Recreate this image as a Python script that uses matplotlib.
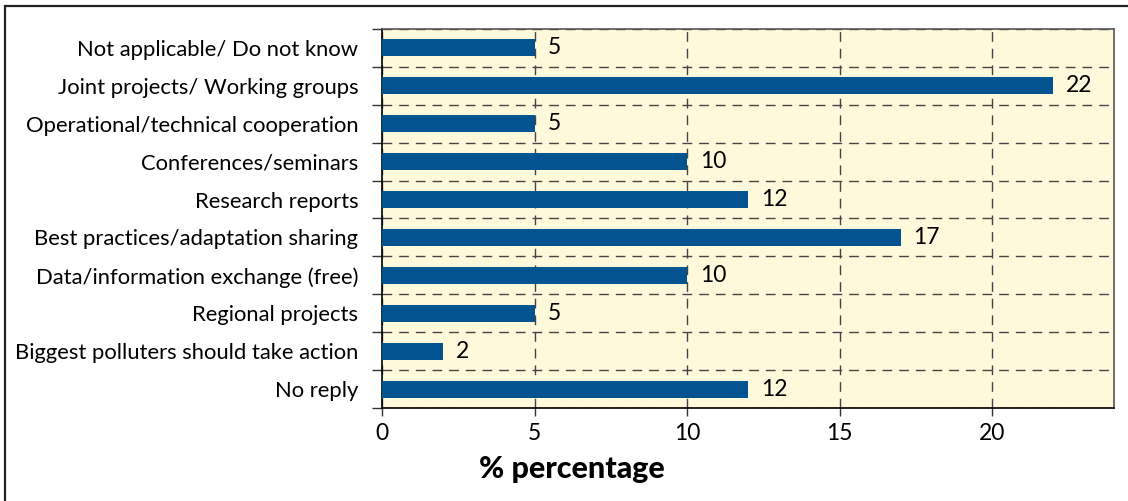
import matplotlib
matplotlib.use("Agg")
import matplotlib.pyplot as plt
from matplotlib.patches import Rectangle

categories = [
    "Not applicable/ Do not know",
    "Joint projects/ Working groups",
    "Operational/technical cooperation",
    "Conferences/seminars",
    "Research reports",
    "Best practices/adaptation sharing",
    "Data/information exchange (free)",
    "Regional projects",
    "Biggest polluters should take action",
    "No reply",
]
values = [5, 22, 5, 10, 12, 17, 10, 5, 2, 12]
xticks = [0, 5, 10, 15, 20]

BAR = "#01548F"
BG = "#FFF9DC"
FONT = "Lato"

W, H = 1128, 501
fig = plt.figure(figsize=(W / 100, H / 100), dpi=100)
fig.patch.set_facecolor("white")

# outer frame (left and top edges visible)
fig.patches.append(Rectangle((5 / W, -0.05), 1.2, 1 - 6 / H + 0.05,
                             transform=fig.transFigure, fill=False,
                             edgecolor="#222222", linewidth=1.6, zorder=0))

ax = fig.add_axes([382 / W, 1 - 408 / H, (1114 - 382) / W, (408 - 29) / H])
ax.set_facecolor(BG)

n = len(categories)
ypos = list(range(n))
ax.barh(ypos, values, height=0.45, color=BAR, zorder=3)
for y, v in zip(ypos, values):
    ax.text(v + 0.42, y, f"{v}", va="center", ha="left",
            fontsize=16.5, family=FONT, color="black", zorder=4)

ax.set_xlim(0, 24)
ax.set_ylim(n - 0.5, -0.5)

ax.set_yticks(ypos)
ax.set_yticklabels(categories, fontsize=15.8, family=FONT)
ax.tick_params(axis="y", which="major", length=0, pad=17)
ax.set_yticks([i + 0.5 for i in range(-1, n)], minor=True)
ax.tick_params(axis="y", which="minor", length=7, width=1, color="#333333")

ax.set_xticks(xticks)
ax.set_xticklabels([str(t) for t in xticks], fontsize=16.5, family=FONT)
ax.tick_params(axis="x", length=6, width=1, color="#333333", pad=5)

ax.grid(axis="x", which="major", linestyle=(0, (7, 5)), color="#444444",
        linewidth=1, zorder=1)
ax.grid(axis="y", which="minor", linestyle=(0, (7, 5)), color="#444444",
        linewidth=1, zorder=1)
ax.grid(axis="y", which="major", visible=False)

for side in ("left", "bottom"):
    ax.spines[side].set_color("black")
    ax.spines[side].set_linewidth(1.2)
for side in ("top", "right"):
    ax.spines[side].set_color("#555555")
    ax.spines[side].set_linewidth(1.2)

fig.text(572 / W, 1 - 469 / H, "% percentage", ha="center", va="center",
         fontsize=22, fontweight="black", family=FONT)

fig.savefig("out.png", dpi=100)
